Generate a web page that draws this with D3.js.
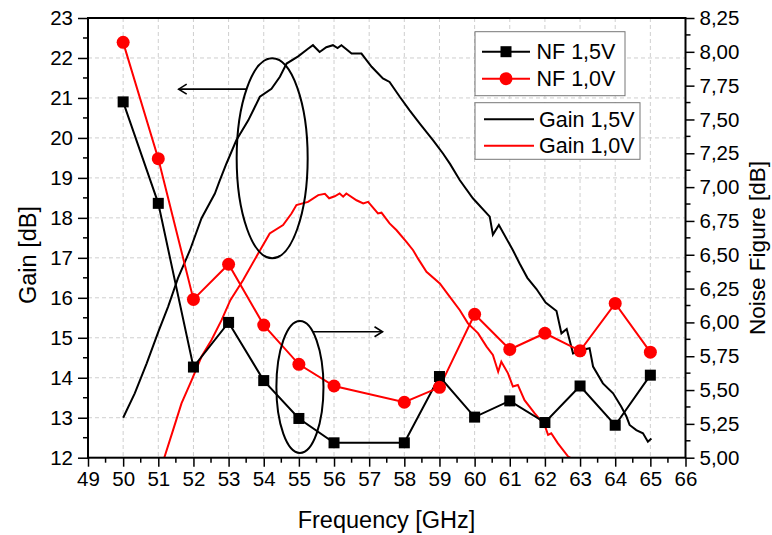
<!DOCTYPE html>
<html><head><meta charset="utf-8">
<script src="https://cdn.jsdelivr.net/npm/d3@7"></script>
<style>
html,body{margin:0;padding:0;background:#fff;}
svg{display:block;font-family:"Liberation Sans",Arial,sans-serif;}
</style></head>
<body>
<svg id="chart" width="772" height="535"></svg>
<script>
// ---- data ----
const nfFreq = [50,51,52,53,54,55,56,58,59,60,61,62,63,64,65];
const nf15 = [7.63,6.88,5.67,6.00,5.57,5.29,5.11,5.11,5.60,5.30,5.42,5.26,5.53,5.24,5.61];
const nf10 = [8.07,7.21,6.17,6.43,5.98,5.69,5.53,5.41,5.52,6.06,5.80,5.92,5.79,6.14,5.78];

const gain15Freq = [50.00,50.33,50.67,51.00,51.28,51.56,51.90,52.23,52.61,52.75,52.94,53.22,53.56,53.89,54.22,54.46,54.65,54.98,55.26,55.40,55.59,55.78,55.97,56.10,56.21,56.50,56.78,57.07,57.39,57.58,57.87,58.15,58.44,58.82,59.10,59.30,59.58,59.95,60.43,60.52,60.69,61.09,61.28,61.50,61.76,62.02,62.33,62.47,62.62,62.80,62.94,63.08,63.27,63.37,63.65,63.94,64.17,64.32,64.41,64.60,64.79,64.93,65.03];
const gain15 = [13.00,13.61,14.36,15.15,15.78,16.49,17.19,17.99,18.61,18.94,19.36,19.94,20.44,21.03,21.23,21.53,21.86,22.04,22.23,22.32,22.15,22.27,22.32,22.25,22.32,22.11,22.11,21.78,21.49,21.40,21.03,20.69,20.36,19.94,19.61,19.35,18.94,18.49,18.03,17.58,17.82,17.19,16.86,16.50,16.22,15.88,15.67,15.11,15.22,14.61,14.65,14.70,14.74,14.28,13.86,13.61,13.28,13.03,12.82,12.69,12.61,12.40,12.48];

const gain10Freq = [51.17,51.42,51.66,51.95,52.23,52.51,52.80,53.05,53.41,53.79,54.17,54.55,54.79,54.93,55.26,55.55,55.74,55.86,56.02,56.16,56.26,56.35,56.64,56.83,56.97,57.25,57.35,57.58,57.78,58.06,58.25,58.39,58.63,59.01,59.29,59.58,59.81,60.10,60.34,60.52,60.67,60.76,60.95,61.09,61.23,61.42,61.71,61.99,62.09,62.18,62.37,62.66,62.72];
const gain10 = [12.00,12.69,13.36,13.94,14.53,14.94,15.44,15.94,16.44,17.03,17.61,17.82,18.11,18.32,18.40,18.57,18.60,18.49,18.54,18.61,18.53,18.61,18.44,18.36,18.40,18.11,18.13,17.86,17.69,17.40,17.19,16.98,16.65,16.36,16.03,15.69,15.36,15.11,14.78,14.57,14.15,14.40,14.11,13.78,13.82,13.44,13.11,12.82,12.57,12.61,12.36,12.03,12.00];

const xTicks = [49,50,51,52,53,54,55,56,57,58,59,60,61,62,63,64,65,66];
const gainTicks = [12,13,14,15,16,17,18,19,20,21,22,23];
const nfTicks = [5.00,5.25,5.50,5.75,6.00,6.25,6.50,6.75,7.00,7.25,7.50,7.75,8.00,8.25];
const legendNF = ["NF 1,5V","NF 1,0V"];
const legendGain = ["Gain 1,5V","Gain 1,0V"];

// ---- layout ----
const L = 88, R = 685.5, T = 18, B = 457.7;
const x = d3.scaleLinear().domain([49,66]).range([L,R]);
const yG = d3.scaleLinear().domain([12,23]).range([B,T]);
const yN = d3.scaleLinear().domain([5,8.25]).range([B,T]);
const svg = d3.select("#chart");
const RED = "#ff0000";

// grid
const grid = svg.append("g").attr("stroke","#cfcfcf").attr("stroke-width",1).attr("stroke-dasharray","4,3");
xTicks.slice(1,-1).forEach(v=>grid.append("line").attr("x1",x(v)).attr("x2",x(v)).attr("y1",T).attr("y2",B));
gainTicks.slice(1,-1).forEach(v=>grid.append("line").attr("x1",L).attr("x2",R).attr("y1",yG(v)).attr("y2",yG(v)));

// clip
svg.append("clipPath").attr("id","clip").append("rect").attr("x",L).attr("y",T).attr("width",R-L).attr("height",B-T);

// gain lines
const gl = d3.line().x(d=>x(d[0])).y(d=>yG(d[1]));
const plot = svg.append("g").attr("clip-path","url(#clip)");
plot.append("path").datum(d3.zip(gain15Freq,gain15)).attr("d",gl).attr("fill","none").attr("stroke","#000").attr("stroke-width",2);
plot.append("path").datum(d3.zip(gain10Freq,gain10)).attr("d",gl).attr("fill","none").attr("stroke",RED).attr("stroke-width",2);

// NF lines
const nl = d3.line().x(d=>x(d[0])).y(d=>yN(d[1]));
plot.append("path").datum(d3.zip(nfFreq,nf15)).attr("d",nl).attr("fill","none").attr("stroke","#000").attr("stroke-width",2);
plot.append("path").datum(d3.zip(nfFreq,nf10)).attr("d",nl).attr("fill","none").attr("stroke",RED).attr("stroke-width",2);
svg.append("g").selectAll("rect").data(d3.zip(nfFreq,nf15)).join("rect")
  .attr("x",d=>x(d[0])-5.5).attr("y",d=>yN(d[1])-5.5).attr("width",11).attr("height",11).attr("fill","#000");
svg.append("g").selectAll("circle").data(d3.zip(nfFreq,nf10)).join("circle")
  .attr("cx",d=>x(d[0])).attr("cy",d=>yN(d[1])).attr("r",6.5).attr("fill",RED);

// annotations (ellipses & arrows)
const ann = svg.append("g").attr("fill","none").attr("stroke","#000").attr("stroke-width",2);
ann.append("ellipse").attr("cx",x(54.24)).attr("cy",yG(19.49)).attr("rx",x(55.25)-x(54.24)).attr("ry",yG(19.49)-yG(21.99));
ann.append("ellipse").attr("cx",x(55.03)).attr("cy",yG(13.77)).attr("rx",x(55.7)-x(55.03)).attr("ry",yG(13.77)-yG(15.42));
function arrow(f1,f2,g){
  const y=yG(g), x1=x(f1), x2=x(f2), dir = x2>x1?-1:1;
  ann.append("line").attr("x1",x1).attr("x2",x2).attr("y1",y).attr("y2",y).attr("stroke-width",1.6);
  ann.append("path").attr("d",`M${x2+dir*8},${y-5}L${x2},${y}L${x2+dir*8},${y+5}`).attr("stroke-width",1.6);
}
arrow(53.52,51.58,21.22);
arrow(55.4,57.38,15.15);

// axes frame
const ax = svg.append("g").attr("stroke","#000").attr("stroke-width",2).attr("fill","none");
ax.append("rect").attr("x",L).attr("y",T).attr("width",R-L).attr("height",B-T);

const fontTick = 20.5;
// bottom axis
const xAxis = d3.axisBottom(x).tickValues(xTicks).tickSize(9).tickPadding(5).tickFormat(d3.format("d"));
const gx = svg.append("g").attr("transform",`translate(0,${B})`).call(xAxis);
const xMinor = d3.range(49.5,66,1);
svg.append("g").selectAll("line").data(xMinor).join("line").attr("x1",d=>x(d)).attr("x2",d=>x(d)).attr("y1",B).attr("y2",B+5).attr("stroke","#000").attr("stroke-width",1.5);

// left axis
const yAxisL = d3.axisLeft(yG).tickValues(gainTicks).tickSize(10).tickPadding(5).tickFormat(d3.format("d"));
const gyl = svg.append("g").attr("transform",`translate(${L},0)`).call(yAxisL);
svg.append("g").selectAll("line").data(d3.range(12.5,23,1)).join("line").attr("x1",L-5).attr("x2",L).attr("y1",d=>yG(d)).attr("y2",d=>yG(d)).attr("stroke","#000").attr("stroke-width",1.5);

// right axis
const yAxisR = d3.axisRight(yN).tickValues(nfTicks).tickSize(9).tickPadding(5).tickFormat(d=>d3.format(".2f")(d).replace(".",","));
const gyr = svg.append("g").attr("transform",`translate(${R},0)`).call(yAxisR);
svg.append("g").selectAll("line").data(d3.range(5.125,8.25,0.25)).join("line").attr("x1",R).attr("x2",R+5).attr("y1",d=>yN(d)).attr("y2",d=>yN(d)).attr("stroke","#000").attr("stroke-width",1.5);

[gx,gyl,gyr].forEach(g=>{
  g.select(".domain").remove();
  g.selectAll(".tick line").attr("stroke","#000").attr("stroke-width",1.5);
  g.selectAll(".tick text").attr("fill","#000").style("font-size",fontTick+"px").style("font-family","'Liberation Sans',Arial,sans-serif");
});

// titles
svg.append("text").attr("x",386.5).attr("y",528).attr("text-anchor","middle").style("font-size","23.5px").text("Frequency [GHz]");
svg.append("text").attr("transform","translate(36,255) rotate(-90)").attr("text-anchor","middle").style("font-size","23.5px").text("Gain [dB]");
svg.append("text").attr("transform","translate(765,248) rotate(-90)").attr("text-anchor","middle").style("font-size","22.5px").text("Noise Figure [dB]");

// legends
const lg = svg.append("g");
lg.append("rect").attr("x",475).attr("y",31.7).attr("width",150).attr("height",64).attr("fill","#fff").attr("stroke","#777").attr("stroke-width",1);
lg.append("rect").attr("x",475).attr("y",102.7).attr("width",165).attr("height",56.6).attr("fill","#fff").attr("stroke","#777").attr("stroke-width",1);
const nfRows = [51.7,78.7];
legendNF.forEach((t,i)=>{
  const y = nfRows[i], c = i===0?"#000":RED;
  lg.append("line").attr("x1",482).attr("x2",530).attr("y1",y).attr("y2",y).attr("stroke",c).attr("stroke-width",2);
  if(i===0) lg.append("rect").attr("x",506-5.5).attr("y",y-5.5).attr("width",11).attr("height",11).attr("fill",c);
  else lg.append("circle").attr("cx",506).attr("cy",y).attr("r",6.5).attr("fill",c);
  lg.append("text").attr("x",536.5).attr("y",y+7.5).style("font-size","21.5px").text(t);
});
const gRows = [119.3,145.7];
legendGain.forEach((t,i)=>{
  const y = gRows[i], c = i===0?"#000":RED;
  lg.append("line").attr("x1",484).attr("x2",534).attr("y1",y).attr("y2",y).attr("stroke",c).attr("stroke-width",2);
  lg.append("text").attr("x",539).attr("y",y+7.5).style("font-size","21.5px").text(t);
});
</script>
</body></html>
